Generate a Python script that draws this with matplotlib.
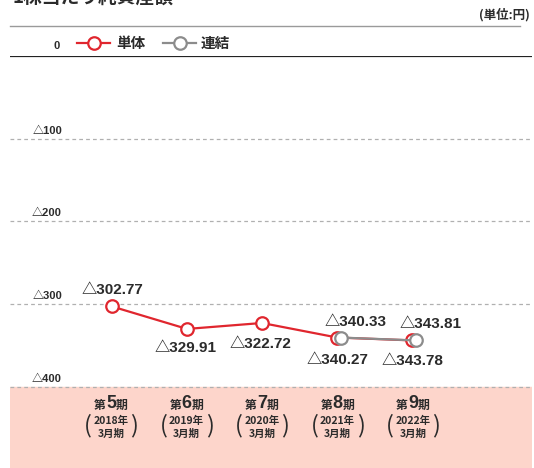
import matplotlib.pyplot as plt
from matplotlib.lines import Line2D

plt.rcParams['font.family'] = ['Noto Sans CJK JP', 'DejaVu Sans']
NUMF = ['Liberation Sans', 'Noto Sans CJK JP']

# Data
periods = ["5", "6", "7", "8", "9"]
years = ["2018年", "2019年", "2020年", "2021年", "2022年"]
tandoku = [302.77, 329.91, 322.72, 340.27, 343.78]     # 単体
renketsu = [None, None, None, 340.33, 343.81]          # 連結
y_ticks = [100, 200, 300, 400]

RED = "#E0262E"
GRAY = "#8C8C8C"
TXT = "#2B2B2B"
PINK = "#FDD5CB"

W, H = 534, 468
fig = plt.figure(figsize=(W / 100, H / 100), dpi=100)

# main axes: x 10..532 px, y from 0-line (56 px) to bottom
ax = fig.add_axes([10 / W, 0, 522 / W, (H - 56) / H])
ax.set_xlim(-1.36, 5.6)
ax.set_ylim(-498, 0)
ax.axis("off")

ax.axhspan(-500, -400, color=PINK, zorder=0)
for t in y_ticks:
    ax.axhline(-t, color="#B0B0B0", lw=0.9, dashes=(3, 2.5), zorder=1)
ax.axhline(0, color="#222222", lw=1.6, zorder=1)

x = list(range(len(periods)))
ax.plot(x, [-v for v in tandoku], color=RED, lw=1.6, marker="o", ms=9,
        mfc="white", mec=RED, mew=1.6, zorder=3)
gx = [i + 0.05 for i, v in enumerate(renketsu) if v is not None]
gy = [-v for v in renketsu if v is not None]
ax.plot(gx, gy, color=GRAY, lw=1.6, marker="o", ms=9,
        mfc="white", mec=GRAY, mew=1.6, zorder=4)

# value labels
red_off = [(0, 16), (-1, -19), (-2, -21), (0, -22), (0, -21)]
for i, v in enumerate(tandoku):
    ax.annotate(f"△{v:.2f}", (i, -v), xytext=red_off[i], textcoords="offset pixels",
                ha="center", va="center", fontsize=11, fontweight="bold",
                family=NUMF, color=TXT, zorder=5)
for i, v in enumerate(renketsu):
    if v is None:
        continue
    ax.annotate(f"△{v:.2f}", (i + 0.05, -v), xytext=(15, 16), textcoords="offset pixels",
                ha="center", va="center", fontsize=11, fontweight="bold",
                family=NUMF, color=TXT, zorder=5)

# overlay axes in pixel coordinates
ov = fig.add_axes([0, 0, 1, 1])
ov.set_xlim(0, W)
ov.set_ylim(H, 0)
ov.axis("off")
ov.patch.set_alpha(0)

ov.text(12, 7, "1株当たり純資産額", fontsize=13.5, fontweight="bold",
        color=TXT, ha="left", va="bottom")
ov.text(530, 15, "(単位:円)", fontsize=9, fontweight="bold", color=TXT,
        ha="right", va="center")
ov.plot([10, 520], [26, 26], color="#9A9A9A", lw=1.0)

# legend
ov.add_line(Line2D([77, 110], [43, 43], color=RED, lw=1.6))
ov.plot([94], [43], marker="o", ms=9, mfc="white", mec=RED, mew=1.6)
ov.text(116, 43, "単体", fontsize=10.5, fontweight="bold", color=TXT, va="center")
ov.add_line(Line2D([163, 196], [43, 43], color=GRAY, lw=1.6))
ov.plot([180], [43], marker="o", ms=9, mfc="white", mec=GRAY, mew=1.6)
ov.text(201, 43, "連結", fontsize=10.5, fontweight="bold", color=TXT, va="center")

# y tick labels
ov.text(57, 46, "0", fontsize=8, fontweight="bold", family=NUMF, color=TXT,
        ha="center", va="center")
for t in y_ticks:
    py = 56 + t * 0.8275
    ov.text(62, py - 3, f"△{t}", fontsize=8, fontweight="bold", family=NUMF,
            color=TXT, ha="right", va="bottom")

# category labels
for i, (p, yr) in enumerate(zip(periods, years)):
    cx = 111 + 75.5 * i
    ov.text(cx - 5, 405, "第", fontsize=8.5, fontweight="bold", color=TXT, ha="right", va="center")
    ov.text(cx, 404, p, fontsize=13, fontweight="bold", family=NUMF, color=TXT,
            ha="center", va="center")
    ov.text(cx + 5, 405, "期", fontsize=8.5, fontweight="bold", color=TXT, ha="left", va="center")
    ov.text(cx, 421, yr, fontsize=7.5, fontweight="bold", color=TXT, ha="center", va="center")
    ov.text(cx, 434, "3月期", fontsize=7.5, fontweight="bold", color=TXT, ha="center", va="center")
    ov.text(cx - 23, 426, "(", fontsize=17, color=TXT, ha="center", va="center")
    ov.text(cx + 23, 426, ")", fontsize=17, color=TXT, ha="center", va="center")

fig.savefig("out.png", dpi=100)
